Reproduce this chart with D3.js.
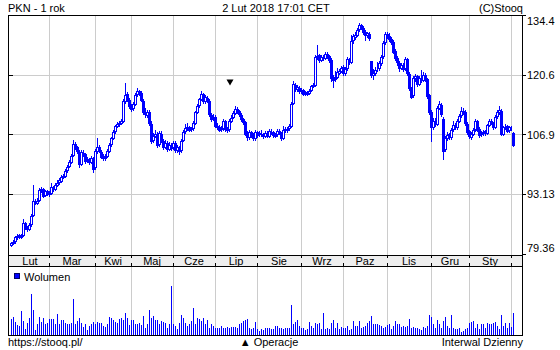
<!DOCTYPE html>
<html><head><meta charset="utf-8">
<script src="https://cdn.jsdelivr.net/npm/d3@7"></script>
<style>
html,body{margin:0;padding:0;background:#fff;}
svg{display:block;font-family:"Liberation Sans",Arial,Helvetica,sans-serif;font-size:11px;}
</style></head><body>
<svg id="c" width="560" height="350"></svg>
<script>
// ---- data ----
const monthLabels = ["Lut","Mar","Kwi","Maj","Cze","Lip","Sie","Wrz","Paz","Lis","Gru","Sty"];
// trading-day index of the first session of each month (last = Feb 2018)
const monthStarts = [0,19,42,60,81,102,123,145,166,188,210,229,250];
const priceTicks = [79.36, 93.13, 106.89, 120.65, 134.41];
const priceTickLabels = ["79.36","93.13","106.9","120.6","134.4"];

const open = [
81.4,81.9,82.3,83.2,83.7,83.3,83.8,86.4,85.6,85.1,86.2,88.3,91.6,91.2,91.8,94.1,94.3,92.9,93.9,
93.1,93.4,94.7,94.4,95.3,95.9,96.2,97.1,97.4,98.6,99.6,100.6,102.2,104.7,103.9,102.9,100.2,102.7,102.4,100.9,101.1,100.6,101.4,
99.3,103.1,103.9,102.9,101.9,101.4,101.9,103.1,104.6,106.1,107.6,108.9,109.3,109.6,110.1,114.6,116.1,114.9,
113.4,112.9,113.9,116.1,116.9,116.4,114.7,112.1,111.4,112.1,109.4,105.6,106.6,107.1,104.6,107.1,105.4,104.1,104.9,103.6,104.4,
103.9,104.9,103.3,103.9,103.2,105.6,107.6,108.4,108.6,108.1,108.4,109.6,112.1,113.6,115.1,116.2,114.6,115.4,114.7,111.4,110.6,
110.9,108.9,108.6,108.1,108.4,109.9,108.3,108.1,110.1,110.9,111.9,112.7,112.2,111.4,110.4,109.7,107.1,106.3,107.4,106.7,106.1,
107.4,106.9,107.1,106.9,106.6,107.2,106.6,107.7,107.5,106.6,106.9,107.7,107.1,106.1,108.1,107.9,108.3,108.9,114.1,118.4,117.4,117.7,
116.9,117.1,116.3,116.6,116.4,117.1,118.1,118.4,124.7,125.1,124.1,124.7,124.6,125.4,124.9,124.1,120.1,119.6,120.1,121.1,121.6,
122.4,121.1,122.1,124.1,123.6,128.6,129.4,129.9,131.1,132.1,131.4,130.4,129.9,130.1,123.7,120.6,121.1,121.9,122.1,123.4,124.9,128.1,
130.1,129.6,128.9,128.3,126.1,124.6,123.4,122.2,122.9,122.1,124.2,120.9,117.4,116.0,119.9,120.4,118.6,119.9,119.4,120.6,119.6,
115.9,112.1,108.6,110.1,109.3,113.1,113.7,110.5,103.5,106.1,106.9,106.3,108.1,109.1,108.6,110.1,111.3,112.4,112.1,
109.4,107.6,106.4,107.1,108.1,109.9,108.1,106.9,107.2,107.6,107.3,109.1,110.1,109.4,108.6,111.1,112.1,112.3,107.1,108.6,108.8,107.9,
108.4,107.2];
const high = [
82.1,82.6,83.6,84.0,84.0,83.9,87.4,86.7,85.9,86.4,88.5,95.2,92.0,92.2,94.6,94.8,94.6,94.2,94.1,
93.8,95.6,95.0,95.7,96.3,96.8,97.5,97.9,99.0,99.9,101.0,102.5,105.7,105.2,104.3,103.3,103.2,103.4,102.7,101.8,101.5,102.0,101.6,
103.5,106.0,104.4,103.3,102.3,102.3,103.5,104.9,106.4,107.9,109.1,109.7,109.9,110.4,115.0,118.7,116.6,115.4,
113.8,114.3,116.4,117.5,117.2,116.8,115.1,112.9,112.6,112.5,109.9,107.2,108.0,107.5,107.8,107.6,105.9,105.6,105.3,105.1,104.9,
105.4,105.3,104.5,104.3,105.9,107.9,109.3,109.6,108.9,108.7,110.0,112.4,113.9,115.4,116.8,116.5,115.9,115.8,115.0,111.9,111.5,
111.3,109.6,109.0,108.8,110.5,110.3,108.7,110.4,111.3,112.3,113.4,113.2,112.6,111.8,110.8,110.1,107.6,108.0,107.8,107.3,108.0,
107.8,107.7,107.9,107.2,107.7,107.6,108.2,108.1,107.7,107.2,108.2,108.1,107.5,108.9,108.6,108.7,109.2,114.4,119.1,118.8,118.3,118.0,
117.6,117.4,117.0,117.0,117.4,118.4,118.7,125.2,127.5,125.5,125.3,125.1,126.0,125.9,125.3,124.5,120.5,121.5,122.3,122.0,122.7,
122.8,122.5,124.7,124.4,129.8,130.0,130.4,131.5,132.6,132.4,131.8,130.9,130.6,130.5,123.9,122.0,122.4,123.6,123.8,125.2,128.5,130.4,
130.5,130.2,129.4,128.7,126.5,125.0,123.8,123.4,123.3,124.8,124.6,121.3,117.9,120.4,120.8,120.7,120.4,121.7,121.2,121.0,120.0,
116.2,112.5,110.8,110.6,113.4,114.5,114.2,111.0,106.6,107.5,107.3,108.4,109.9,109.5,110.5,111.7,113.2,112.9,112.5,
109.8,107.9,107.4,108.4,110.4,110.2,108.5,107.7,107.9,107.9,109.4,110.4,110.5,109.8,111.4,112.6,113.4,112.7,108.9,109.2,109.1,108.9,
108.9,107.5];
const low = [
81.2,81.6,82.0,82.9,83.0,83.0,83.5,85.1,84.7,84.9,85.9,88.0,90.8,90.9,91.5,93.6,92.4,92.7,92.9,
92.8,93.1,93.9,94.1,95.0,95.5,96.0,96.8,97.1,98.3,99.3,100.3,101.9,103.6,102.6,99.5,99.8,102.0,100.3,100.5,100.1,100.3,98.2,
99.0,102.7,102.8,101.5,101.0,101.0,101.6,102.8,104.3,105.8,107.3,108.5,108.9,109.3,109.8,114.2,114.7,113.1,
112.4,112.6,113.6,115.7,116.0,114.5,111.6,111.0,111.0,109.1,105.0,105.1,106.2,104.0,104.2,105.1,103.6,103.8,103.1,103.3,103.4,
103.6,102.8,102.8,102.4,102.9,105.3,107.2,108.0,107.6,107.7,108.0,109.3,111.8,113.3,114.8,114.1,114.2,114.3,111.1,110.1,110.2,
108.5,108.1,107.6,107.6,108.0,107.8,107.4,107.7,109.8,110.6,111.6,111.9,111.1,110.1,109.4,106.7,105.7,105.8,106.4,105.6,105.7,
106.3,106.5,106.5,106.0,106.3,106.2,106.3,107.1,106.3,106.2,106.5,106.9,105.6,105.8,107.5,107.5,107.9,108.6,113.8,117.0,117.0,116.4,
116.5,115.9,115.9,116.0,116.1,116.8,117.8,118.1,124.3,123.6,123.8,124.1,124.2,124.6,123.6,119.3,117.8,119.2,119.8,120.8,121.2,
120.6,120.7,121.8,123.1,123.3,128.0,128.9,129.5,130.7,131.1,130.1,128.6,129.4,128.7,120.1,119.6,120.7,121.5,121.7,123.0,124.5,127.7,
129.2,128.4,127.8,125.6,124.0,122.9,121.6,121.9,121.5,121.8,120.6,117.1,115.3,115.6,119.3,118.0,118.2,119.0,119.1,119.1,115.4,
111.6,105.4,108.2,108.8,109.0,112.7,111.1,101.2,103.0,105.6,105.8,105.9,107.7,108.1,108.2,109.7,110.9,111.6,109.1,
107.1,106.1,105.9,106.7,107.8,107.7,106.4,106.5,106.8,106.8,107.0,108.8,109.2,108.1,108.3,110.8,111.7,106.7,106.8,108.2,107.5,107.5,
107.9,104.2];
const close = [
81.8,82.2,83.3,83.6,83.4,83.6,86.5,85.5,85.2,86.0,88.0,91.5,91.3,91.6,94.0,94.4,92.8,93.8,93.2,
93.3,94.8,94.3,95.2,95.8,96.3,97.0,97.3,98.5,99.5,100.5,102.0,104.8,104.0,103.0,100.0,102.8,102.5,100.8,101.2,100.5,101.5,99.0,
103.0,104.0,103.0,101.8,101.5,101.8,103.0,104.5,106.0,107.5,108.8,109.2,109.5,110.0,114.5,116.0,115.0,113.5,
112.8,113.8,116.0,116.8,116.5,114.8,112.0,111.5,112.0,109.5,105.5,106.5,107.0,104.5,107.2,105.5,104.0,105.0,103.5,104.5,103.8,
105.0,103.2,104.0,103.0,105.5,107.5,108.3,108.5,108.0,108.3,109.5,112.0,113.5,115.0,116.3,114.5,115.5,114.8,111.5,110.5,111.0,
108.8,108.5,108.0,108.3,110.0,108.2,108.0,110.0,110.8,111.8,112.8,112.3,111.5,110.5,109.8,107.0,106.2,107.5,106.8,106.0,107.5,
106.8,107.2,107.0,106.5,107.3,106.5,107.8,107.6,106.7,106.8,107.8,107.2,106.0,108.0,108.0,108.2,108.8,114.0,118.5,117.5,117.8,116.8,
117.0,116.2,116.5,116.3,117.0,118.0,118.3,124.8,125.0,124.0,124.8,124.5,125.5,125.0,124.0,120.0,119.5,120.0,121.2,121.5,122.3,
121.0,122.0,124.2,123.5,128.5,129.5,129.8,131.0,132.2,131.5,130.5,129.8,130.2,129.0,120.5,121.0,121.8,122.0,123.3,124.8,128.0,130.0,
129.5,128.8,128.2,126.0,124.5,123.5,122.3,122.8,122.0,124.3,121.0,117.5,115.5,120.0,120.3,118.5,120.0,119.5,120.5,119.5,115.8,
112.0,108.5,110.0,109.2,113.0,113.8,111.5,103.0,106.0,106.8,106.2,108.0,109.0,108.5,110.0,111.2,112.3,112.0,109.5,
107.5,106.5,107.0,108.0,110.0,108.0,106.8,107.3,107.5,107.2,109.0,110.0,109.5,108.5,111.0,112.0,112.5,107.0,108.5,108.7,107.8,108.5,
108.3,104.4];
// volume, million shares
const volume = [
1.57,1.80,1.30,1.00,0.90,2.40,1.40,0.57,1.23,1.67,4.13,2.50,0.50,1.13,1.80,1.30,1.73,1.07,1.23,
1.57,1.57,1.57,1.07,2.13,1.07,1.50,1.47,1.23,1.07,1.07,1.23,3.63,1.13,1.40,1.70,1.23,0.83,1.13,0.47,0.90,1.07,1.30,
1.07,1.33,1.23,1.23,0.90,0.80,1.07,1.80,1.73,1.47,1.33,1.23,1.57,1.73,1.47,2.20,1.73,1.00,
1.50,1.47,1.13,1.07,1.23,1.00,1.90,0.73,1.13,2.50,1.67,1.90,1.50,1.47,1.13,1.40,1.33,1.23,0.73,1.07,4.90,
1.13,0.90,0.57,1.23,2.00,1.73,1.23,0.90,1.07,1.40,2.70,1.07,1.73,1.57,1.40,1.73,1.07,1.47,0.73,1.07,0.90,
0.73,0.73,0.73,0.90,0.73,0.73,0.80,0.73,0.80,0.80,0.80,0.73,1.13,1.23,1.40,1.47,1.57,0.73,0.57,0.73,1.33,
0.57,0.40,0.57,0.47,0.73,0.73,0.73,0.57,0.57,0.90,0.90,0.73,0.73,0.57,0.73,0.73,0.73,3.00,1.13,1.33,1.47,0.90,
0.73,0.73,0.47,0.57,1.30,0.90,0.73,1.23,1.13,1.23,0.57,2.20,0.57,0.73,0.57,1.23,1.47,0.73,1.23,0.57,0.80,
0.73,0.73,0.90,0.47,0.57,1.40,0.90,0.90,1.40,0.73,0.80,0.90,1.23,1.40,1.90,1.07,1.07,1.07,1.00,0.90,0.73,0.80,
1.00,1.07,0.57,0.90,1.40,1.13,1.07,0.80,0.90,0.80,0.90,1.63,0.73,0.80,0.73,0.73,0.57,0.47,0.80,0.73,0.90,
2.00,1.83,1.07,0.73,1.47,1.07,0.73,1.40,1.80,0.90,0.73,2.00,0.73,0.57,0.57,0.73,0.33,0.40,0.57,
0.73,1.23,1.30,1.40,0.73,1.07,0.57,1.07,1.07,0.73,1.23,1.07,1.13,1.23,1.30,0.90,0.57,2.00,0.90,1.23,0.73,1.23,
0.80,2.20];
// corporate operations (trading-day index, marker tip price)
const operations = [{idx:110, price:118.2}];

// ---- layout ----
const svg = d3.select("#c");
const L=8, R=522, T=15, PB=255, BB=266, VB=335;
const BLUE="#0000ff", GRID="#cccccc", FONT='"Liberation Sans",Arial,sans-serif';
const n = close.length;
const x = d3.scaleLinear().domain([0, n-1]).range([11, 11 + 2*(n-1)]);
const col = i => Math.round(x(i));
const yP = d3.scaleLinear().domain([79.36, 134.41]).range([254, 15]);
const yV = d3.scaleLinear().domain([0, 6.8]).range([VB, VB-68]);

// header
svg.append("text").attr("x",L).attr("y",12).text("PKN - 1 rok");
svg.append("text").attr("x",276).attr("y",12).attr("text-anchor","middle").text("2 Lut 2018 17:01 CET");
svg.append("text").attr("x",523).attr("y",12).attr("text-anchor","end").text("(C)Stooq");

// band background
svg.append("rect").attr("x",L).attr("y",PB).attr("width",R-L).attr("height",BB-PB).attr("fill","#eeeeee");

// grid
const gGrid = svg.append("g").attr("stroke",GRID).attr("shape-rendering","crispEdges");
monthStarts.slice(1).forEach(i=>{
  const gx = col(i)+0.5;
  gGrid.append("line").attr("x1",gx).attr("x2",gx).attr("y1",T).attr("y2",PB);
  gGrid.append("line").attr("x1",gx).attr("x2",gx).attr("y1",BB).attr("y2",VB);
});
priceTicks.slice(1,-1).forEach(v=>{
  const gy = Math.round(yP(v))+0.5;
  gGrid.append("line").attr("x1",L).attr("x2",R).attr("y1",gy).attr("y2",gy);
});

// candles
const gC = svg.append("g").attr("shape-rendering","crispEdges");
close.forEach((c,i)=>{
  const o = open[i];
  const xc = col(i);
  const hi = Math.max(high[i], o, c), lo = Math.min(low[i], o, c);
  gC.append("line").attr("x1",xc+0.5).attr("x2",xc+0.5)
    .attr("y1",Math.round(yP(hi))).attr("y2",Math.round(yP(lo))+1).attr("stroke",BLUE);
  const top = Math.round(yP(Math.max(o,c))), bot = Math.round(yP(Math.min(o,c)));
  gC.append("rect").attr("x",xc-0.5).attr("y",top+0.5).attr("width",2).attr("height",Math.max(bot-top,0))
    .attr("fill", c>=o ? "#fff" : BLUE).attr("stroke",BLUE);
});

// operation markers
operations.forEach(op=>{
  const cx = x(op.idx)-1, ty = yP(op.price);
  svg.append("path").attr("d",`M${cx-3.5},${ty-6}L${cx+3.5},${ty-6}L${cx},${ty}Z`).attr("fill","#000");
});

// volume
const gV = svg.append("g").attr("shape-rendering","crispEdges").attr("fill",BLUE);
volume.forEach((v,i)=>{
  const yt = Math.round(yV(v));
  gV.append("rect").attr("x",col(i)).attr("y",yt).attr("width",1).attr("height",VB-yt);
});
svg.append("rect").attr("x",14.5).attr("y",273.5).attr("width",5).attr("height",5).attr("fill",BLUE).attr("stroke","#000066");
svg.append("text").attr("x",24).attr("y",281).text("Wolumen");

// frame
const gF = svg.append("g").attr("stroke","#000").attr("shape-rendering","crispEdges");
[[L+0.5,T,L+0.5,VB+1],[R+0.5,T,R+0.5,VB+1],[L,T+0.5,R+1,T+0.5],[L,PB+0.5,R+1,PB+0.5],[L,BB+0.5,R+1,BB+0.5],[L,VB+0.5,R+1,VB+0.5]]
 .forEach(d=>gF.append("line").attr("x1",d[0]).attr("y1",d[1]).attr("x2",d[2]).attr("y2",d[3]));
// left ticks
priceTicks.slice(1,-1).forEach(v=>{
  const gy = Math.round(yP(v))+0.5;
  gF.append("line").attr("x1",L).attr("x2",L+5).attr("y1",gy).attr("y2",gy);
});
// band ticks
monthStarts.slice(1).forEach(i=>{
  const gx = col(i)+0.5;
  gF.append("line").attr("x1",gx).attr("x2",gx).attr("y1",PB).attr("y2",PB+3);
  gF.append("line").attr("x1",gx).attr("x2",gx).attr("y1",BB-3).attr("y2",BB);
});

// month labels
monthLabels.forEach((m,k)=>{
  const a = x(monthStarts[k]), b = x(monthStarts[k+1]);
  svg.append("text").attr("x",(a+b)/2).attr("y",264.5).attr("text-anchor","middle").text(m);
});

// right price axis
const ax = d3.axisRight(yP).tickValues(priceTicks).tickSize(4).tickPadding(1)
  .tickFormat((d,i)=>priceTickLabels[i]);
const ga = svg.append("g").attr("transform",`translate(${R},0)`).call(ax);
ga.select(".domain").remove();
ga.attr("font-size",11).attr("font-family",FONT);
ga.selectAll("line").attr("stroke","#000").attr("shape-rendering","crispEdges");
ga.selectAll("text").attr("fill","#000")
  .attr("dy",(d,i)=> i===priceTicks.length-1 ? "0.87em" : (i===0 ? "-0.22em" : "0.32em"));

// footer
svg.append("text").attr("x",L).attr("y",346).text("https://stooq.pl/");
svg.append("text").attr("x",269).attr("y",346).attr("text-anchor","middle").text("\u25B2 Operacje");
svg.append("text").attr("x",523).attr("y",346).attr("text-anchor","end").text("Interwal Dzienny");
</script>
</body></html>
